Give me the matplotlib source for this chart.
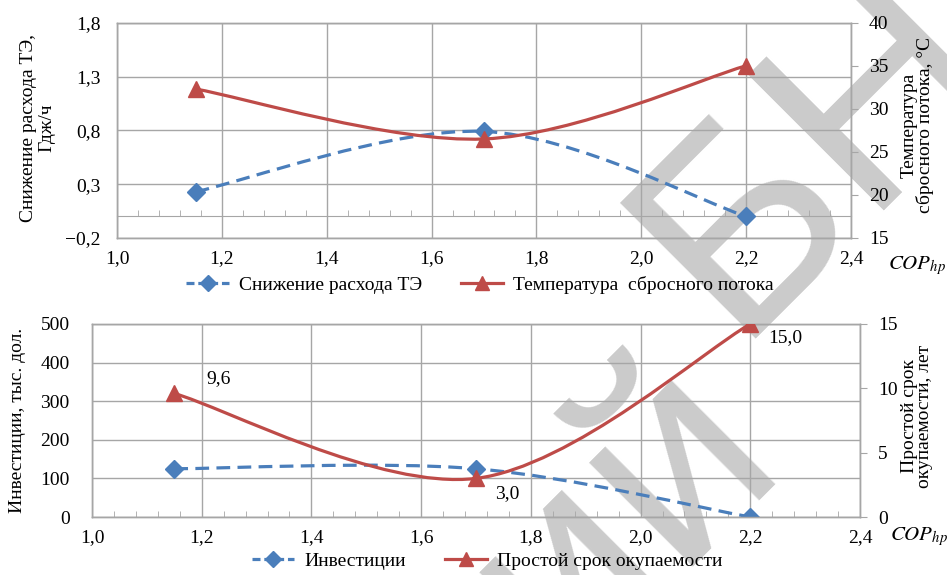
import matplotlib
matplotlib.use("Agg")
import matplotlib.pyplot as plt
from matplotlib.path import Path
from matplotlib.patches import PathPatch
from matplotlib.lines import Line2D
from matplotlib.ticker import MultipleLocator, FuncFormatter

plt.rcParams["font.family"] = ["Liberation Serif", "DejaVu Serif"]
plt.rcParams["mathtext.fontset"] = "stix"
plt.rcParams["font.size"] = 14

# data
cop = [1.15, 1.7, 2.2]
fuel_saving = [0.23, 0.79, 0.0]      # Гдж/ч
exhaust_temp = [32.3, 26.5, 35.0]    # °C
investment = [125, 125, 0]           # тыс. дол.
payback = [9.6, 3.0, 15.0]           # лет
payback_labels = ["9,6", "3,0", "15,0"]

x_ticks = [1.0, 1.2, 1.4, 1.6, 1.8, 2.0, 2.2, 2.4]
top_left_ticks = [-0.2, 0.3, 0.8, 1.3, 1.8]
top_right_ticks = [15, 20, 25, 30, 35, 40]
bot_left_ticks = [0, 100, 200, 300, 400, 500]
bot_right_ticks = [0, 5, 10, 15]

BLUE = "#4A7EBB"
RED = "#BE4B48"
GRID = "#A6A6A6"


def comma(v, pos=None):
    return f"{v:.1f}".replace(".", ",").replace("-", "\u2212")


def smooth_path(xs, ys):
    # Excel-like smoothed line: Catmull-Rom tangents -> cubic Bezier control points
    pts = list(zip(xs, ys))
    n = len(pts)
    tang = []
    for i in range(n):
        a = pts[max(i - 1, 0)]
        b = pts[min(i + 1, n - 1)]
        tang.append(((b[0] - a[0]) / 2, (b[1] - a[1]) / 2))
    verts = [pts[0]]
    codes = [Path.MOVETO]
    for i in range(n - 1):
        p0, p1 = pts[i], pts[i + 1]
        verts += [(p0[0] + tang[i][0] / 3, p0[1] + tang[i][1] / 3),
                  (p1[0] - tang[i + 1][0] / 3, p1[1] - tang[i + 1][1] / 3),
                  p1]
        codes += [Path.CURVE4] * 3
    return Path(verts, codes)


def draw_series(ax, xs, ys, color, ls, marker, ms):
    ax.add_patch(PathPatch(smooth_path(xs, ys), fill=False, edgecolor=color,
                           lw=2.3, linestyle=ls, capstyle="butt", zorder=3))
    ax.plot(xs, ys, linestyle="none", marker=marker, ms=ms, color=color, zorder=4)


def style_pair(ax, axr, left_ticks, right_ticks, left_fmt):
    ax.set_facecolor("none")
    axr.set_facecolor("none")
    ax.set_xlim(1.0, 2.4)
    ax.set_xticks(x_ticks)
    ax.xaxis.set_major_formatter(FuncFormatter(comma))
    ax.set_ylim(left_ticks[0], left_ticks[-1])
    ax.set_yticks(left_ticks)
    ax.yaxis.set_major_formatter(FuncFormatter(left_fmt))
    axr.set_ylim(right_ticks[0], right_ticks[-1])
    axr.set_yticks(right_ticks)
    ax.grid(True, which="major", color=GRID, lw=1)
    ax.set_axisbelow(True)
    for a in (ax, axr):
        for s in a.spines.values():
            s.set_color(GRID)
            s.set_linewidth(1)
    ax.tick_params(axis="y", length=0, pad=12)
    ax.tick_params(axis="x", which="major", length=0, pad=9)
    axr.tick_params(axis="y", direction="out", length=5, color=GRID, pad=8)


fig = plt.figure(figsize=(9.47, 5.75), dpi=100)

# watermark of the source repository
wm = dict(fontsize=200, color="#CBCBCB", family="Liberation Sans", rotation=45,
          rotation_mode="anchor", va="baseline", zorder=-1)
fig.text(783 / 947, 1 - 454 / 575, "Репозиторий", ha="right", **wm)
fig.text(733 / 947, 1 - 339 / 575, "БНТУ", ha="left", **wm)

# ---- top chart
ax1 = fig.add_axes([117 / 947, 1 - 238 / 575, 734 / 947, 215.3 / 575])
ax1r = ax1.twinx()
style_pair(ax1, ax1r, top_left_ticks, top_right_ticks, comma)
ax1.tick_params(axis="x", which="minor", length=0)
# x axis crossing at 0 with minor ticks
zero_pos = (0 - top_left_ticks[0]) / (top_left_ticks[-1] - top_left_ticks[0])
sec = ax1.secondary_xaxis(zero_pos)
sec.spines["bottom"].set_color(GRID)
sec.set_xticks(x_ticks)
sec.xaxis.set_minor_locator(MultipleLocator(0.04))
sec.tick_params(which="major", length=0, labelbottom=False)
sec.tick_params(which="minor", direction="in", length=4, color=GRID)

draw_series(ax1, cop, fuel_saving, BLUE, (0, (4.3, 2.3)), "D", 9)
draw_series(ax1r, cop, exhaust_temp, RED, "-", "^", 12)

fig.text(38 / 947, 1 - 128 / 575, "Снижение расхода ТЭ,\nГдж/ч", rotation=90,
         ha="center", va="center", multialignment="center", linespacing=1.1)
fig.text(917 / 947, 1 - 125 / 575, "Температура\nсбросного потока, °С", rotation=90,
         ha="center", va="center", multialignment="center", linespacing=0.9)
fig.text(888 / 947, 1 - 266 / 575, r"$COP_{hp}$", ha="left", va="center", fontsize=15)

h_blue = Line2D([], [], color=BLUE, lw=2.3, ls=(0, (2.5, 1.2)), marker="D", ms=8)
h_red = Line2D([], [], color=RED, lw=2.3, ls="-", marker="^", ms=10)
fig.legend([h_blue, h_red], ["Снижение расхода ТЭ", "Температура  сбросного потока"],
           loc="center", bbox_to_anchor=(480 / 947, 1 - 285 / 575), ncol=2, frameon=False,
           handlelength=2.2, handletextpad=0.5, columnspacing=2.0, borderpad=0)

# ---- bottom chart
ax2 = fig.add_axes([92 / 947, 1 - 517 / 575, 768 / 947, 193 / 575])
ax2r = ax2.twinx()
style_pair(ax2, ax2r, bot_left_ticks, bot_right_ticks, lambda v, p=None: f"{v:.0f}")
ax2.xaxis.set_minor_locator(MultipleLocator(0.04))
ax2.tick_params(axis="x", which="minor", direction="in", length=4, color=GRID)
ax2.tick_params(axis="y", pad=16)

draw_series(ax2, cop, investment, BLUE, (0, (4.3, 2.3)), "D", 9)
draw_series(ax2r, cop, payback, RED, "-", "^", 12)
offsets = [(32, 15), (19, -15), (18, -14)]
for x, y, lab, off in zip(cop, payback, payback_labels, offsets):
    ax2r.annotate(lab, (x, y), xytext=off, textcoords="offset pixels",
                  ha="left", va="center", zorder=5)

fig.text(18 / 947, 1 - 420 / 575, "Инвестиции, тыс. дол.", rotation=90,
         ha="center", va="center")
fig.text(917 / 947, 1 - 416 / 575, "Простой срок\nокупаемости, лет", rotation=90,
         ha="center", va="center", multialignment="center", linespacing=0.9)
fig.text(890 / 947, 1 - 537 / 575, r"$COP_{hp}$", ha="left", va="center", fontsize=15)

fig.legend([h_blue, h_red], ["Инвестиции", "Простой срок окупаемости"],
           loc="center", bbox_to_anchor=(487 / 947, 1 - 561 / 575), ncol=2, frameon=False,
           handlelength=2.2, handletextpad=0.5, columnspacing=2.0, borderpad=0)

fig.savefig("out.png", dpi=100)
